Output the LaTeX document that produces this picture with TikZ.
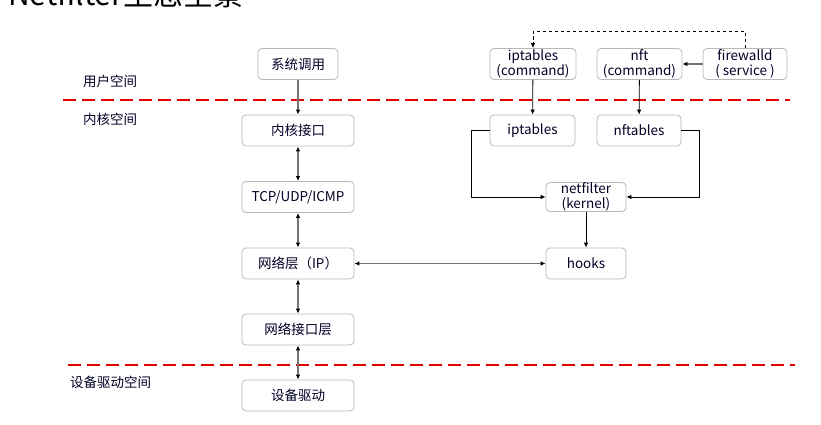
\documentclass[tikz,border=0pt]{standalone}
\usepackage{fontspec}
\setmainfont{Noto Sans CJK SC}
\usetikzlibrary{arrows.meta}
\begin{document}
\begin{tikzpicture}[x=1pt,y=-1pt,
  >={Latex[length=5pt,width=4.5pt,color=black]},
  box/.style={draw=black!28, rounded corners=4pt, line width=0.8pt, minimum width=112pt, minimum height=31pt, align=center, font=\fontsize{13.5}{14.5}\selectfont, inner sep=0pt, text=black!85!blue},
  lab/.style={font=\fontsize{13.5}{15}\selectfont, anchor=west, inner sep=0pt, text=black!85!blue},
  sep/.style={draw=red!88!black, line width=1.8pt, dash pattern=on 13pt off 6pt},
  garr/.style={draw=black!55, line width=1.3pt},
  karr/.style={draw=black, line width=0.8pt},
]
\useasboundingbox (0,0) rectangle (821,425);
\clip (0,0) rectangle (821,425);
\node[anchor=base west, font=\fontsize{30}{30}\selectfont, inner sep=0pt] (title) at (8,6) {Netfilter生态全景};
% separators
\draw[sep] (63,100) -- (790,100);
\draw[sep] (68,365) -- (795,365);
% space labels
\node[lab] (usr) at (83,81) {用户空间};
\node[lab] (krn) at (83,119) {内核空间};
\node[lab] (drv) at (70,382) {设备驱动空间};
% left column
\node[box, minimum width=80pt] (sys) at (298,64) {系统调用};
\node[box] (kif) at (298,130.5) {内核接口};
\node[box] (tcp) at (298,197) {TCP/UDP/ICMP};
\node[box] (ip) at (298,263.5) {网络层（IP）};
\node[box] (nif) at (298,329.5) {网络接口层};
\node[box] (dev) at (298,395.5) {设备驱动};
\draw[garr,->] (sys) -- (kif);
\draw[garr,<->] (kif) -- (tcp);
\draw[garr,<->] (tcp) -- (ip);
\draw[garr,<->] (ip) -- (nif);
\draw[garr,<->] (nif) -- (dev);
% right side
\node[box, minimum width=86pt] (ipc) at (533,64) {iptables\\(command)};
\node[box, minimum width=85pt] (nftc) at (639.5,64) {nft\\(command)};
\node[box, minimum width=84pt] (fw) at (745,64) {firewalld\\( service )};
\node[box, minimum width=85pt] (ipt) at (532.5,130.5) {iptables};
\node[box, minimum width=84pt] (nft) at (639,130.5) {nftables};
\node[box, minimum width=80pt, minimum height=29pt] (nf) at (586,197) {netfilter\\(kernel)};
\node[box, minimum width=80pt] (hooks) at (586,263.5) {hooks};
\draw[karr, dash pattern=on 3.5pt off 2.5pt, ->] (fw.north) -- ++(0,-17) -| (ipc.north);
\draw[garr, ->] (fw) -- (nftc);
\draw[karr, ->] (ipc) -- (ipt);
\draw[karr, ->] (nftc) -- (nft);
\draw[karr, ->] (ipt.west) -- ++(-18,0) |- (nf.west);
\draw[karr, ->] (nft.east) -- ++(18,0) |- (nf.east);
\draw[karr, ->] (nf) -- (hooks);
\draw[garr, <->] (ip) -- (hooks);
\end{tikzpicture}
\end{document}
